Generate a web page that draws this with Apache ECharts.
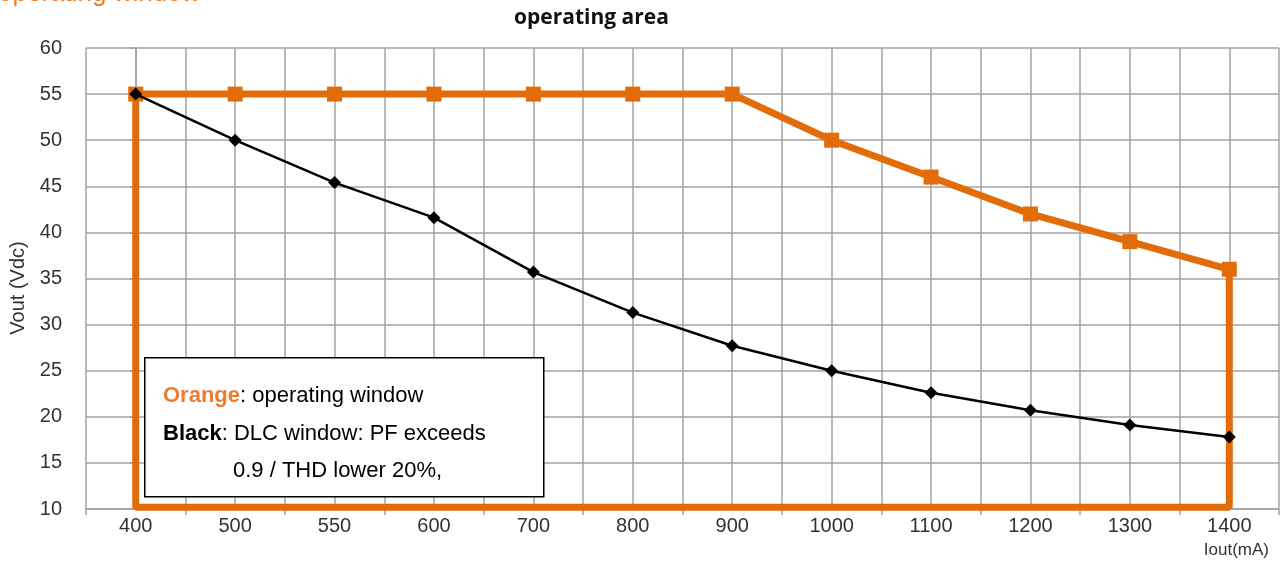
<!DOCTYPE html>
<html><head><meta charset="utf-8">
<script src="https://cdn.jsdelivr.net/npm/echarts@6/dist/echarts.min.js"></script>
<style>html,body{margin:0;padding:0;background:#fff;overflow:hidden}#c{width:1282px;height:564px}</style>
</head><body><div id="c"></div>
<script>
const categories = ['400','500','550','600','700','800','900','1000','1100','1200','1300','1400'];
const orangeTop = [55,55,55,55,55,55,55,50,46,42,39,36];
const orangeFloor = 10.2;
const blackDLC = [55,50,45.4,41.6,35.7,31.3,27.7,25,22.6,20.7,19.1,17.8];
const yMin = 10, yMax = 60, yStep = 5;

const ORANGE = '#E36C0A';
const GRID = '#a3a3a3';
const LABEL = '#333';

// orange closed window: top edge, then down right side, along floor, up left side
const orangeData = orangeTop.map((v, i) => ({ value: [i, v] }));
orangeData.push({ value: [categories.length - 1, orangeFloor], symbol: 'none' });
orangeData.push({ value: [0, orangeFloor], symbol: 'none' });
orangeData.push({ value: [0, orangeTop[0]], symbol: 'none' });

const blackData = blackDLC.map((v, i) => [i, v]);

const chart = echarts.init(document.getElementById('c'), null, { renderer: 'canvas' });
chart.setOption({
  animation: false,
  backgroundColor: '#fff',
  grid: { left: 86, right: 3, top: 48, bottom: 55, containLabel: false },
  xAxis: [
    {
      type: 'category', data: categories, boundaryGap: true,
      axisLine: { show: true, lineStyle: { color: GRID, width: 1.5 } },
      axisTick: { show: true, length: 6, lineStyle: { color: GRID, width: 1.5 } },
      axisLabel: { color: LABEL, fontFamily: 'Liberation Sans, Arial', fontSize: 20, margin: 7 },
      splitLine: { show: false },
      name: 'Iout(mA)', nameLocation: 'end', nameGap: 0,
      nameTextStyle: { color: LABEL, fontFamily: 'Liberation Sans, Arial', fontSize: 17, align: 'right', verticalAlign: 'top', padding: [33, 10, 0, 0] }
    },
    {
      type: 'value', min: -0.5, max: categories.length - 0.5, interval: 0.5,
      position: 'bottom',
      axisLine: { show: false }, axisTick: { show: false }, axisLabel: { show: false },
      splitLine: { show: true, lineStyle: { color: GRID, width: 1.5 } }
    }
  ],
  yAxis: {
    type: 'value', min: yMin, max: yMax, interval: yStep,
    axisLine: { show: true, lineStyle: { color: GRID, width: 1.5 } },
    axisTick: { show: true, length: 6, lineStyle: { color: GRID, width: 1.5 } },
    axisLabel: { color: LABEL, fontFamily: 'Liberation Sans, Arial', fontSize: 20, margin: 24 },
    splitLine: { show: true, lineStyle: { color: GRID, width: 1.5 } },
    name: 'Vout (Vdc)', nameLocation: 'middle', nameGap: 58, nameRotate: 90,
    nameTextStyle: { color: LABEL, fontFamily: 'Liberation Sans, Arial', fontSize: 20, padding: [0, 19, 0, 0] }
  },
  series: [
    {
      type: 'line', xAxisIndex: 1, data: orangeData,
      symbol: 'rect', symbolSize: 15,
      lineStyle: { color: ORANGE, width: 7 },
      itemStyle: { color: ORANGE },
      z: 2
    },
    {
      type: 'line', xAxisIndex: 1, data: blackData,
      symbol: 'diamond', symbolSize: 13,
      lineStyle: { color: '#000', width: 2.5 },
      itemStyle: { color: '#000' },
      z: 3
    }
  ],
  graphic: [
    {
      type: 'text', left: -2, top: -19,
      style: { text: 'operating window', fill: '#F47A20', font: '26px "Liberation Sans", Arial' }
    },
    {
      type: 'text', left: 514, top: 8,
      style: { text: 'operating area', fill: '#111', font: 'bold 21px "Open Sans"' }
    },
    {
      type: 'rect', left: 144, top: 357, z: 10,
      shape: { width: 399, height: 139 },
      style: { fill: '#fff', stroke: '#000', lineWidth: 1.5 }
    },
    {
      type: 'text', left: 163, top: 385, z: 11,
      style: {
        text: '{o|Orange}{n|: operating window}',
        rich: {
          o: { fill: '#ED7D31', font: 'bold 22px "Liberation Sans", Arial' },
          n: { fill: '#000', font: '22px "Liberation Sans", Arial' }
        }
      }
    },
    {
      type: 'text', left: 163, top: 423, z: 11,
      style: {
        text: '{b|Black}{n|: DLC window: PF exceeds}',
        rich: {
          b: { fill: '#000', font: 'bold 22px "Liberation Sans", Arial' },
          n: { fill: '#000', font: '22px "Liberation Sans", Arial' }
        }
      }
    },
    {
      type: 'text', left: 233, top: 460, z: 11,
      style: { text: '0.9 / THD lower 20%,', fill: '#000', font: '22px "Liberation Sans", Arial' }
    }
  ]
});
</script>
</body></html>
